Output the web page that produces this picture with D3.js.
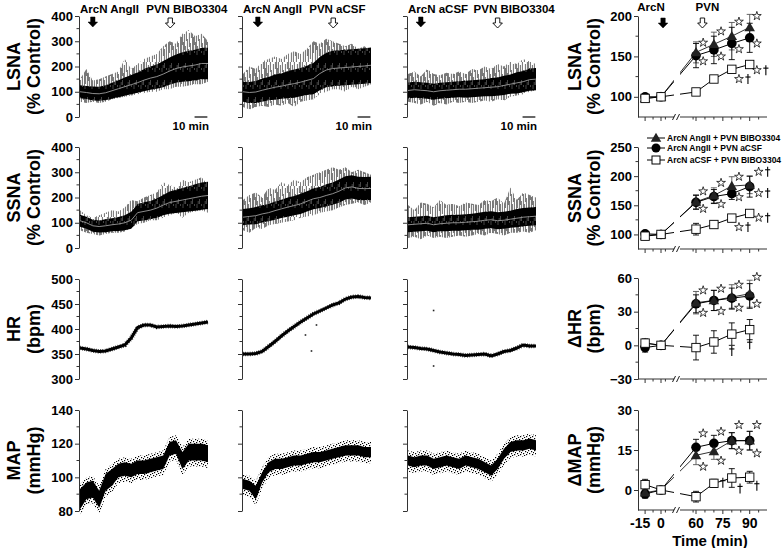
<!DOCTYPE html>
<html><head><meta charset="utf-8">
<script src="https://cdn.jsdelivr.net/npm/d3@7"></script>
<style>body{margin:0;background:#fff}svg{display:block;font-family:Arial,"Liberation Sans",sans-serif;font-weight:bold}</style>
</head><body><script>
// ---------- raw trace data (time in min, 5-min samples) ----------
const traceTime = [0,5,10,15,20,25,30,35,40,45,50,55,60,65,70,75,80,85,90,95,100];

const lsna1Mean = [100,97,93,92,96,104,112,120,128,136,146,154,160,170,182,192,198,202,206,212,212];
const lsna1Half = [26,26,28,28,30,32,34,36,38,40,44,46,48,52,54,56,58,60,60,62,62];
const lsna1Up   = [150,190,145,150,160,170,180,230,190,210,230,240,250,280,300,290,330,345,320,330,300];
const lsna1Dn   = [60,55,60,55,60,70,75,80,85,90,95,100,100,110,110,120,120,125,130,130,140];

const lsna2Mean = [100,97,99,106,112,118,122,128,132,138,145,152,172,186,192,194,196,198,200,202,205];
const lsna2Half = [40,42,44,46,46,50,50,54,56,56,58,62,66,68,70,70,70,70,70,70,70];
const lsna2Up   = [170,200,190,220,230,240,230,250,260,250,270,300,290,310,300,290,280,290,270,280,260];
const lsna2Dn   = [40,30,40,45,40,50,45,55,40,60,65,70,90,100,110,110,100,120,110,120,130];

const lsna3Mean = [105,108,106,104,100,104,106,108,110,110,112,114,116,118,120,125,130,135,140,148,150];
const lsna3Half = [32,32,32,32,32,32,32,32,32,34,34,34,34,36,36,38,38,42,42,44,44];
const lsna3Up   = [170,180,160,190,170,165,175,170,180,170,190,185,200,190,210,200,220,210,230,220,210];
const lsna3Dn   = [60,55,50,60,45,55,50,60,55,60,55,60,65,60,70,65,80,85,90,100,105];

const ssna1Mean = [108,100,88,85,88,92,95,100,110,140,145,150,158,170,180,185,190,195,200,205,208];
const ssna1Half = [24,24,24,24,26,26,28,30,34,34,36,36,38,40,44,46,48,50,52,54,54];
const ssna1Up   = [150,130,120,130,140,150,145,160,190,185,200,210,220,260,250,240,270,260,270,280,250];
const ssna1Dn   = [70,60,55,50,55,60,60,65,80,95,100,110,110,120,130,140,120,140,145,150,140];

const ssna2Mean = [122,125,128,135,140,148,155,162,168,175,185,195,200,208,215,225,238,242,236,235,236];
const ssna2Half = [32,32,34,34,34,36,36,38,38,40,40,42,42,44,44,46,46,46,46,46,46];
const ssna2Up   = [190,210,220,200,240,230,260,250,270,260,280,290,300,310,320,310,320,300,310,300,290];
const ssna2Dn   = [70,60,80,75,90,95,100,105,110,120,125,130,140,145,150,160,170,175,180,170,180];

const ssna3Mean = [92,94,96,98,92,96,98,100,100,102,104,106,110,112,108,110,114,118,122,124,126];
const ssna3Half = [30,30,30,30,30,30,32,32,32,32,32,34,34,34,34,34,34,36,36,36,36];
const ssna3Up   = [170,150,180,175,160,190,170,175,165,180,175,170,190,185,200,175,240,190,220,210,200];
const ssna3Dn   = [40,45,35,50,40,45,40,45,50,45,50,55,50,60,55,50,60,60,65,60,70];

const hr1 = [362,360,357,355,356,360,364,368,382,403,408,408,404,405,406,405,406,408,410,412,414];
const hr2 = [350,350,351,355,365,375,386,396,405,414,422,430,436,442,448,452,460,464,465,463,462];
const hr3 = [364,363,361,360,357,354,352,350,349,347,348,349,350,346,350,355,357,362,368,366,366];
const hrOut2T = [48.8,53.5,57.4], hrOut2V = [388,356,408];
const hrOut3T = [20,20], hrOut3V = [437,326];

const map1Mean = [87,92,93,87,97,100,104,105,104,106,106,107,108,109,117,118,110,115,115,115,114];
const map1Half = [6,5,5,5,5,5,4,4,4,4,4,4,4,4,4,4,5,5,5,5,5];
const map2Mean = [96,95,91,100,106,108,108,109,110,110,111,112,112,113,114,115,116,116,116,115,115];
const map2Half = [3,3,4,3,3,3,3,3,3,3,3,3,3,3,3,3,3,3,3,3,3];
const map3Mean = [110,109,110,110,108,109,110,109,108,110,109,108,106,104,108,114,118,119,119,120,119];
const map3Half = [3,3,3,3,3,3,3,3,3,3,3,3,3,3,3,3,3,3,3,3,3];

const arcnLabels = ["ArcN AngII","ArcN AngII","ArcN aCSF"];
const pvnLabels  = ["PVN BIBO3304","PVN aCSF","PVN BIBO3304"];
const arcnTime = [10,11.6,10];
const pvnTime  = [70.5,70.5,70];

const snaTicks = [0,100,200,300,400], snaMinor = [50,150,250,350];
const hrTicks = [300,350,400,450,500], hrMinor = [325,375,425,475];
const mapTicks = [80,100,120,140], mapMinor = [90,110,130];

// ---------- group data ----------
const times = [-15,0,60,70,80,90];
const seriesNames = ["ArcN AngII + PVN BIBO3304","ArcN AngII + PVN aCSF","ArcN aCSF + PVN BIBO3304"];
const xTickVals = [-15,0,60,75,90];
const xMinorVals = [-7.5,7.5,55,65,70,80,85,95];

const lsnaTri = [98,100,155,165,175,186], lsnaTriErr = [4,0,13,15,17,16];
const lsnaCir = [100,100,151,158,166,173], lsnaCirErr = [4,0,15,17,20,18];
const lsnaSq  = [98,100,106,122,134,140],  lsnaSqErr  = [3,0,3,3,3,3];
const lsnaStars = [[64,167,"*"],[74,181,"*"],[84,193,"*"],[94,200,"*"],[64,144,"*"],[74,150,"*"],[84,159,"*"],[94,166,"*"],[84,122,"*†"],[94,133,"*†"]];

const ssnaTri = [98,100,156,167,183,185], ssnaTriErr = [4,0,12,13,16,15];
const ssnaCir = [101,100,155,165,170,182], ssnaCirErr = [5,0,12,12,10,18];
const ssnaSq  = [97,100,109,117,128,136],  ssnaSqErr  = [4,0,10,6,4,4];
const ssnaStars = [[64,174,"*"],[74,188.5,"*"],[84,199,"*"],[95,207.5,"*†"],[64,144,"*"],[74,152,"*"],[84,164,"*"],[95,171,"*†"],[84,112.6,"*†"],[95,128.7,"*†"]];

const hrTri = [2,0,38,40,43,46], hrTriErr = [4,0,10,9,11,12];
const hrCir = [-2,0,37,40,42,44], hrCirErr = [4,0,8,9,9,11];
const hrSq  = [2,0,-2,3,10,14],   hrSqErr  = [3,0,11,10,10,9];
const hrStars = [[64,49,"*"],[74,50.5,"*"],[84,54,"*"],[94,61,"*"],[64,29,"*"],[74,30.5,"*"],[84,33.5,"*"],[94,37,"*"],[80,-5,"†"],[90,1,"†"]];

const mapTri = [-1,0,13,14.5,18.5,18.5], mapTriErr = [2,0,3.5,3,3,3.5];
const mapCir = [-1.5,0,16,17.5,18.5,18.5], mapCirErr = [1.5,0,3,3,3,3.5];
const mapSq  = [2,0,-2.5,2.5,4.5,4.8],   mapSqErr  = [2,0,2,1.5,3.5,2.2];
const mapStars = [[64,21.25,"*"],[74,21.9,"*"],[84,24.4,"*"],[94,24.4,"*"],[64,8.75,"*"],[74,11,"*"],[84,14.75,"*"],[94,13.75,"*"],[75,2.75,"†"],[84.6,0.6,"†"],[94,1.6,"†"]];

const rArcnTime = 3.5, rPvnTime = 63.6;

// ---------- drawing ----------
const svg = d3.select("body").append("svg").attr("width",782).attr("height",548);
const FONT = 'Arial, "Liberation Sans", sans-serif';
const colX = [79,242,407], trW = 129;

// texture patterns (styling only)
const defs = svg.append("defs");
const spk = defs.append("pattern").attr("id","spk").attr("patternUnits","userSpaceOnUse").attr("width",12).attr("height",31);
[[0.4,0,31],[1.4,6,22],[2.4,0,14],[3.4,11,31],[4.4,3,19],[5.4,15,31],[6.4,0,10],[7.4,8,25],[8.4,18,31],[9.4,2,16],[10.4,12,28],[11.4,0,7]].forEach(([x,a,b]) =>
  spk.append("line").attr("x1",x).attr("x2",x).attr("y1",a).attr("y2",b).attr("stroke","#3c3c3c").attr("stroke-width",0.75));
const cor = defs.append("pattern").attr("id","cor").attr("patternUnits","userSpaceOnUse").attr("width",7).attr("height",17);
cor.append("rect").attr("width",7).attr("height",17).attr("fill","#000");
[[1,0,4],[3.5,12,17],[5.5,0,2],[2.2,14,17]].forEach(([x,a,b]) =>
  cor.append("line").attr("x1",x).attr("x2",x).attr("y1",a).attr("y2",b).attr("stroke","#555").attr("stroke-width",0.8));
const dot = defs.append("pattern").attr("id","dot").attr("patternUnits","userSpaceOnUse").attr("width",6).attr("height",6);
[[0,0],[3,1],[1,3],[4,4],[5,2],[2,5]].forEach(([x,y]) =>
  dot.append("rect").attr("x",x).attr("y",y).attr("width",1.2).attr("height",1.2).attr("fill","#000"));

const rows = [
  {title:["LSNA","(% Control)"], dom:[0,400], rng:[117,16], tk:snaTicks, mn:snaMinor},
  {title:["SSNA","(% Control)"], dom:[0,400], rng:[248,147], tk:snaTicks, mn:snaMinor},
  {title:["HR","(bpm)"], dom:[300,500], rng:[379,279], tk:hrTicks, mn:hrMinor},
  {title:["MAP","(mmHg)"], dom:[80,140], rng:[511,410], tk:mapTicks, mn:mapMinor}
];
const snaData = [
  [[lsna1Mean,lsna1Half,lsna1Up,lsna1Dn],[lsna2Mean,lsna2Half,lsna2Up,lsna2Dn],[lsna3Mean,lsna3Half,lsna3Up,lsna3Dn]],
  [[ssna1Mean,ssna1Half,ssna1Up,ssna1Dn],[ssna2Mean,ssna2Half,ssna2Up,ssna2Dn],[ssna3Mean,ssna3Half,ssna3Up,ssna3Dn]]
];
const hrData = [hr1,hr2,hr3];
const hrOut = [[[],[]],[hrOut2T,hrOut2V],[hrOut3T,hrOut3V]];
const mapData = [[map1Mean,map1Half],[map2Mean,map2Half],[map3Mean,map3Half]];

function yAxis(g, y, x0, tk, mn, labels, fs) {
  const a = g.append("g").attr("transform",`translate(${x0},0)`);
  a.call(d3.axisLeft(y).tickValues(tk).tickSize(4).tickSizeOuter(0).tickPadding(2)
    .tickFormat(labels ? d3.format("d") : () => ""));
  a.attr("font-family",null).attr("font-size",null);
  a.select(".domain").attr("stroke","#333");
  a.selectAll(".tick line").attr("stroke","#333");
  a.selectAll(".tick text").attr("font-size",fs||13).attr("font-weight","bold").attr("fill","#000").attr("font-family",FONT);
  a.selectAll(".mn").data(mn).join("line").attr("class","mn")
    .attr("x1",-2.5).attr("x2",0).attr("y1",d=>y(d)).attr("y2",d=>y(d)).attr("stroke","#333");
  return a;
}
function yTitle(x1, x2, yc, t) {
  svg.append("text").attr("transform",`translate(${x1},${yc}) rotate(-90)`).attr("text-anchor","middle")
    .attr("font-size",18).attr("font-weight","bold").text(t[0]);
  svg.append("text").attr("transform",`translate(${x2},${yc}) rotate(-90)`).attr("text-anchor","middle")
    .attr("font-size",18).attr("font-weight","bold").text(t[1]);
}
function arrow(x, top, filled) {
  const p = d3.path();
  p.moveTo(x-2.2, top); p.lineTo(x+2.2, top); p.lineTo(x+2.2, top+5); p.lineTo(x+4.8, top+5);
  p.lineTo(x, top+10); p.lineTo(x-4.8, top+5); p.lineTo(x-2.2, top+5); p.closePath();
  svg.append("path").attr("d", p.toString()).attr("fill", filled ? "#000" : "#fff")
    .attr("stroke","#000").attr("stroke-width", filled ? 0.5 : 0.9);
}
function dagger(g, x, y) {
  g.append("line").attr("x1",x).attr("x2",x).attr("y1",y-5).attr("y2",y+5).attr("stroke","#000").attr("stroke-width",1.1);
  g.append("line").attr("x1",x-2.6).attr("x2",x+2.6).attr("y1",y-2).attr("y2",y-2).attr("stroke","#000").attr("stroke-width",1.1);
}

rows.forEach((row, r) => {
  const y = d3.scaleLinear().domain(row.dom).range(row.rng);
  const yc = (row.rng[0]+row.rng[1])/2;
  yTitle(20, 40, yc, row.title);
  colX.forEach((cx, c) => {
    const x = d3.scaleLinear().domain([0,100]).range([cx+1, cx+trW]);
    const g = svg.append("g");
    if (r < 2) {
      const [mean, half, up, dn] = snaData[r][c];
      const pts = traceTime.map((t,i)=>({t, m:mean[i], h:half[i], u:up[i], d:dn[i]}));
      g.append("path").datum(pts).attr("d", d3.area().x(d=>x(d.t)).y0(d=>y(d.d)).y1(d=>y(d.u)))
        .attr("fill","url(#spk)");
      g.append("path").datum(pts).attr("d", d3.area().x(d=>x(d.t)).y0(d=>y(d.m-d.h)).y1(d=>y(d.m+d.h)))
        .attr("fill","url(#cor)");
      g.append("path").datum(pts).attr("d", d3.line().x(d=>x(d.t)).y(d=>y(d.m)))
        .attr("fill","none").attr("stroke","#9c9c9c").attr("stroke-width",0.9);
    } else if (r === 2) {
      const pts = traceTime.map((t,i)=>({t, v:hrData[c][i]}));
      g.append("path").datum(pts).attr("d", d3.line().x(d=>x(d.t)).y(d=>y(d.v)))
        .attr("fill","none").attr("stroke","#000").attr("stroke-width",3);
      g.append("path").datum(pts).attr("d", d3.line().x(d=>x(d.t)).y(d=>y(d.v)))
        .attr("fill","none").attr("stroke","#000").attr("stroke-width",4.6).attr("stroke-dasharray","0.6,1.7");
      const [ot, ov] = hrOut[c];
      g.selectAll(".od").data(ot).join("rect").attr("x",(d)=>x(d)-0.8).attr("y",(d,i)=>y(ov[i])-0.8)
        .attr("width",1.6).attr("height",1.6).attr("fill","#222");
    } else {
      const [mean, half] = mapData[c];
      const pts = traceTime.map((t,i)=>({t, m:mean[i], h:half[i]}));
      g.append("path").datum(pts).attr("d", d3.area().x(d=>x(d.t)).y0(d=>y(d.m-d.h)+6).y1(d=>y(d.m+d.h)-5))
        .attr("fill","url(#dot)");
      g.append("path").datum(pts).attr("d", d3.area().x(d=>x(d.t)).y0(d=>y(d.m-d.h)).y1(d=>y(d.m+d.h)))
        .attr("fill","#000");
    }
    yAxis(svg, y, cx, row.tk, row.mn, c === 0);
    if (r === 0) {
      svg.append("text").attr("x",cx+1).attr("y",13).attr("font-size",11.5).attr("font-weight","bold").text(arcnLabels[c]);
      svg.append("text").attr("x",x(pvnTime[c])-24).attr("y",13).attr("font-size",11.5).attr("font-weight","bold").text(pvnLabels[c]);
      arrow(x(arcnTime[c]), 17, true);
      arrow(x(pvnTime[c]), 18, false);
      svg.append("line").attr("x1",x(89.5)).attr("x2",x(99.5)).attr("y1",117).attr("y2",117).attr("stroke","#000").attr("stroke-width",1.2);
      svg.append("text").attr("x",x(100)+1).attr("y",130).attr("text-anchor","end").attr("font-size",11.5).attr("font-weight","bold").text("10 min");
    }
  });
});

// ---------- right group panels ----------
const rx = d3.scaleLinear().domain([-21.7,0,60,100]).range([638,661,696,767.6]);
const rRows = [
  {title:["LSNA","(% Control)"], dom:[75,200], rng:[117,16], tk:[100,150,200], mn:[125,175],
   s:[[lsnaTri,lsnaTriErr],[lsnaCir,lsnaCirErr],[lsnaSq,lsnaSqErr]], stars:lsnaStars},
  {title:["SSNA","(% Control)"], dom:[75,250], rng:[249,147], tk:[100,150,200,250], mn:[125,175,225],
   s:[[ssnaTri,ssnaTriErr],[ssnaCir,ssnaCirErr],[ssnaSq,ssnaSqErr]], stars:ssnaStars},
  {title:["\u0394HR","(bpm)"], dom:[-30,60], rng:[379,278], tk:[-30,0,30,60], mn:[-15,15,45],
   s:[[hrTri,hrTriErr],[hrCir,hrCirErr],[hrSq,hrSqErr]], stars:hrStars},
  {title:["\u0394MAP","(mmHg)"], dom:[-7.5,30], rng:[510,410], tk:[0,15,30], mn:[7.5,22.5],
   s:[[mapTri,mapTriErr],[mapCir,mapCirErr],[mapSq,mapSqErr]], stars:mapStars}
];
const triSym = d3.symbol(d3.symbolTriangle).size(48);
const starSym = d3.symbol(d3.symbolStar).size(24);
const BX = 677;

rRows.forEach((row, r) => {
  const y = d3.scaleLinear().domain(row.dom).range(row.rng);
  const yb = row.rng[0];
  const g = svg.append("g");
  yTitle(581, 600, (row.rng[0]+row.rng[1])/2, row.title);
  const line = d3.line().x((d,i)=>rx(times[i])).y(d=>y(d));
  row.s.forEach(([v], k) => {
    g.append("path").datum(v).attr("d", line).attr("fill","none")
      .attr("stroke", k===0 ? "#333" : "#000").attr("stroke-width",1);
  });
  g.append("rect").attr("x",BX-3).attr("y",row.rng[1]).attr("width",6).attr("height",yb-row.rng[1]-1).attr("fill","#fff");
  row.s.forEach(([v, e], k) => {
    v.forEach((d,i) => {
      if (!e[i]) return;
      const xx = rx(times[i]);
      const col = k===0 ? "#555" : "#000";
      g.append("line").attr("x1",xx).attr("x2",xx).attr("y1",y(d-e[i])).attr("y2",y(d+e[i])).attr("stroke",col).attr("stroke-width",0.9);
      [d-e[i], d+e[i]].forEach(w => g.append("line").attr("x1",xx-3).attr("x2",xx+3).attr("y1",y(w)).attr("y2",y(w)).attr("stroke",col).attr("stroke-width",0.9));
    });
  });
  g.selectAll(".c").data(row.s[1][0]).join("circle").attr("cx",(d,i)=>rx(times[i])).attr("cy",d=>y(d)).attr("r",4.8).attr("fill","#000");
  g.selectAll(".t").data(row.s[0][0]).join("path").attr("d",triSym)
    .attr("transform",(d,i)=>`translate(${rx(times[i])},${y(d)+0.8})`).attr("fill","#222");
  g.selectAll(".s").data(row.s[2][0]).join("rect").attr("x",(d,i)=>rx(times[i])-4.2).attr("y",d=>y(d)-4.2)
    .attr("width",8.4).attr("height",8.4).attr("fill","#fff").attr("stroke","#000").attr("stroke-width",0.9);
  row.stars.forEach(([t, v, s]) => {
    const xx = rx(t), yy = y(v);
    if (s.includes("*")) {
      g.append("path").attr("d",starSym).attr("transform",`translate(${xx},${yy})`)
        .attr("fill","none").attr("stroke","#000").attr("stroke-width",0.75);
    }
    if (s.includes("\u2020")) dagger(g, s.includes("*") ? xx+9 : xx, yy);
  });
  yAxis(svg, y, 638, row.tk, row.mn, true, 13);
  const ax = svg.append("g");
  ax.append("line").attr("x1",638).attr("x2",BX-3).attr("y1",yb).attr("y2",yb).attr("stroke","#333");
  ax.append("line").attr("x1",BX+3).attr("x2",767).attr("y1",yb).attr("y2",yb).attr("stroke","#333");
  [-3,1].forEach(o => ax.append("line").attr("x1",BX+o-1.5).attr("x2",BX+o+1.5).attr("y1",yb+3).attr("y2",yb-3).attr("stroke","#000").attr("stroke-width",0.9));
  xTickVals.forEach(t => ax.append("line").attr("x1",rx(t)).attr("x2",rx(t)).attr("y1",yb).attr("y2",yb+4).attr("stroke","#333"));
  xMinorVals.forEach(t => ax.append("line").attr("x1",rx(t)).attr("x2",rx(t)).attr("y1",yb).attr("y2",yb+2.5).attr("stroke","#333"));
  if (r === 3) {
    xTickVals.forEach(t => ax.append("text").attr("x",rx(t) + (t < 0 ? -5 : 0)).attr("y",528).attr("text-anchor","middle")
      .attr("font-size",14).attr("font-weight","bold").text(t));
    ax.append("text").attr("x",710).attr("y",546).attr("text-anchor","middle").attr("font-size",15).attr("font-weight","bold").text("Time (min)");
  }
  if (r === 0) {
    svg.append("text").attr("x",rx(rArcnTime)-12).attr("y",11).attr("text-anchor","middle").attr("font-size",11.5).attr("font-weight","bold").text("ArcN");
    svg.append("text").attr("x",rx(rPvnTime)+5).attr("y",11).attr("text-anchor","middle").attr("font-size",11.5).attr("font-weight","bold").text("PVN");
    arrow(rx(rArcnTime), 18, true);
    arrow(rx(rPvnTime), 18, false);
  }
  if (r === 1) {
    const lg = svg.append("g");
    const ly = [138,148,160];
    seriesNames.forEach((n, k) => {
      lg.append("line").attr("x1",647).attr("x2",665).attr("y1",ly[k]).attr("y2",ly[k]).attr("stroke","#000");
      if (k===0) lg.append("path").attr("d",triSym).attr("transform",`translate(656,${ly[k]+0.8})`).attr("fill","#222");
      if (k===1) lg.append("circle").attr("cx",656).attr("cy",ly[k]).attr("r",4.5).attr("fill","#000");
      if (k===2) lg.append("rect").attr("x",652).attr("y",ly[k]-4).attr("width",8).attr("height",8).attr("fill","#fff").attr("stroke","#000");
      lg.append("text").attr("x",667).attr("y",ly[k]+3).attr("font-size",8.5).attr("font-weight","bold").text(n);
    });
  }
});
</script></body></html>
